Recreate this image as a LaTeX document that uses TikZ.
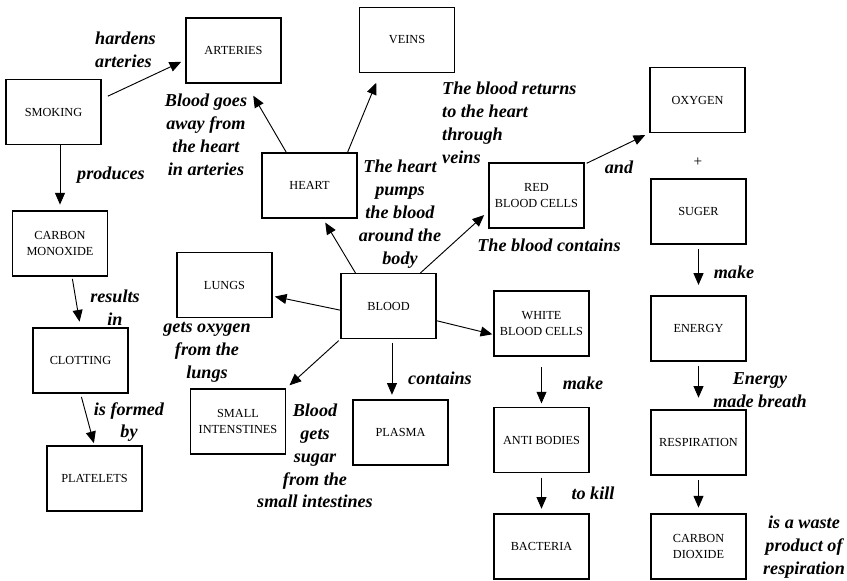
\documentclass[tikz,border=0pt]{standalone}
\usepackage{fontspec}
\setmainfont{Liberation Serif}
\usepackage{tikz}
\usetikzlibrary{calc}
\usetikzlibrary{arrows.meta}

\tikzset{
  box/.style={draw, line width=0.9pt, minimum width=2.85cm, minimum height=1.95cm,
              inner sep=1pt, align=center, font=\fontsize{10.5}{13.5}\selectfont},
  lbl/.style={inner sep=0pt, align=center, font=\fontsize{15.5}{19.5}\selectfont\bfseries\itshape},
  arr/.style={line width=0.8pt, -{Triangle[length=10pt,width=8.5pt]}},
}

\begin{document}
\begin{tikzpicture}[x=0.03cm,y=-0.03cm]
            \useasboundingbox (0,0) rectangle (847,580);

            % Boxes of the left column
            \node [box] (smoking) at (53.5,112) {SMOKING};%
            \node [box] (monoxide) at (60,243.5) {CARBON\\MONOXIDE};%
            \node [box] (clotting) at (80.5,360.5) {CLOTTING};%
            \node [box] (platelets) at (94.5,478.5) {PLATELETS};%

            % Boxes round the heart and the blood
            \node [box] (arteries) at (233.5,50.5) {ARTERIES};%
            \node [box] (veins) at (407,40) {VEINS};%
            \node [box] (heart) at (309.5,185.5) {HEART};%
            \node [box] (blood) at (388.5,306) {BLOOD};%
            \node [box] (lungs) at (224.5,285) {LUNGS};%
            \node [box] (intestines) at (238,421.5) {SMALL\\INTENSTINES};%
            \node [box] (plasma) at (400.5,432.5) {PLASMA};%
            \node [box] (redcells) at (536.5,195.5) {RED\\BLOOD CELLS};%

            % Boxes of the white blood cells
            \node [box] (whitecells) at (541.5,323.5) {WHITE\\BLOOD CELLS};%
            \node [box] (antibodies) at (541.5,440) {ANTI BODIES};%
            \node [box] (bacteria) at (541.5,546.5) {BACTERIA};%

            % Boxes of the right column
            \node [box] (oxygen) at (697.5,100) {OXYGEN};%
            \node [box] (suger) at (698.5,211.5) {SUGER};%
            \node [box] (energy) at (698.5,328.5) {ENERGY};%
            \node [box] (respiration) at (698.5,442.5) {RESPIRATION};%
            \node [box] (dioxide) at (698.5,546.5) {CARBON\\DIOXIDE};%

            % Arrows of the left column
            \draw [arr, shorten <=6pt, shorten >=4pt] (smoking.15) -- (arteries.191);%
            \draw [arr, shorten >=5pt] (smoking.south -| monoxide.north) -- (monoxide.north);%
            \draw [arr, shorten <=2pt, shorten >=5pt] (monoxide.-70) -- (clotting.north);%
            \draw [arr, shorten <=3pt, shorten >=2pt] (clotting.south) -- (platelets.north);%

            % Arrows from the heart and the blood
            \draw [arr, shorten >=12pt] (heart.125) -- (arteries.-69);%
            \draw [arr, shorten >=9pt] (heart.41) -- (veins.-129);%
            \draw [arr, shorten >=4pt] (blood.135) -- (heart.-68);%
            \draw [arr, shorten >=5pt] (blood.46) -- (redcells.198);%
            \draw [arr, shorten <=2pt, shorten >=4pt] (redcells.33) -- (oxygen.south west);%
            \draw [arr, shorten >=2pt] (blood.185) -- (lungs.-13);%
            \draw [arr, shorten <=2pt, shorten >=4pt] (blood.south west) -- (intestines.north east);%
            \draw [arr, shorten <=3pt, shorten >=4pt] (blood.-84) -- (blood.-84 |- plasma.north);%
            \draw [arr, shorten >=1pt] (blood.-17) -- (whitecells.193);%

            % Arrows down the two right columns
            \draw [arr, shorten <=9pt, shorten >=3pt] (whitecells.south) -- (antibodies.north);%
            \draw [arr, shorten <=4pt, shorten >=4pt] (antibodies.south) -- (bacteria.north);%
            \draw [arr, shorten <=4pt, shorten >=9pt] (suger.south) -- (energy.north);%
            \draw [arr, shorten <=4pt, shorten >=10pt] (energy.south) -- (respiration.north);%
            \draw [arr, shorten <=4pt, shorten >=5pt] (respiration.south) -- (dioxide.north);%

            % Labels of the arrows
            \node [lbl, align=left, anchor=west] (lhardens) at (95,50) {hardens\\arteries};%
            \node [lbl] (lproduces) at (111,175) {produces};%
            \node [lbl] (lresults) at (115,308) {results\\in};%
            \node [lbl] (lformed) at (129,422) {is formed\\by};%
            \node [lbl] (lgoes) at (206,135) {Blood goes\\away from\\the heart\\in arteries};%
            \node [lbl, align=left, anchor=west] (lreturns) at (442,123) {The blood returns\\to the heart\\through\\veins};%
            \node [lbl] (lpumps) at (400,214) {The heart\\pumps\\the blood\\around the\\body};%
            \node [lbl] (lcontains) at (549,245) {The blood contains};%
            \node [lbl] (land) at (619,167) {and};%
            \node [inner sep=0pt, font=\fontsize{13}{15}\selectfont] (lplus) at (698,162) {+};%
            \node [lbl] (lmake) at (734,272) {make};%
            \node [lbl] (lbreath) at (760,390) {Energy\\made breath};%
            \node [lbl] (lwaste) at (804,547) {is a waste\\product of\\respiration};%
            \node [lbl] (lmakes) at (583,383) {make};%
            \node [lbl] (lkill) at (593,493) {to kill};%
            \node [lbl] (lplasma) at (440,378) {contains};%
            \node [lbl] (lsugar) at (315,456) {Blood\\gets\\sugar\\from the\\small intestines};%
            \node [lbl] (loxygen) at (207,352) {gets oxygen\\from the\\lungs};%
\end{tikzpicture}
\end{document}
